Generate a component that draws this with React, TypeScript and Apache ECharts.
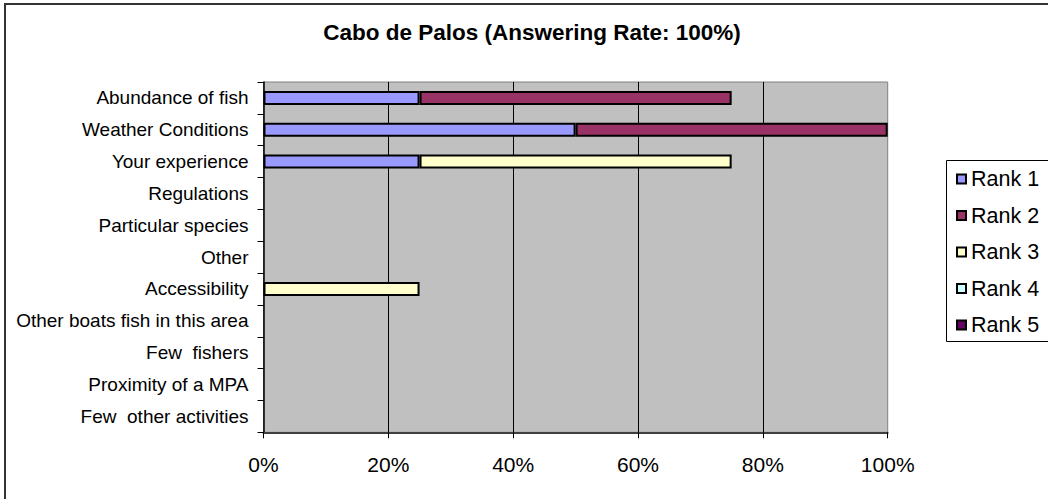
import React, { useEffect, useRef } from "react";
import * as echarts from "echarts";

const categories = [
  "Abundance of fish",
  "Weather Conditions",
  "Your experience",
  "Regulations",
  "Particular species",
  "Other",
  "Accessibility",
  "Other boats fish in this area",
  "Few  fishers",
  "Proximity of a MPA",
  "Few  other activities",
];

const rank1 = [25, 50, 25, 0, 0, 0, 0, 0, 0, 0, 0];
const rank2 = [50, 50, 0, 0, 0, 0, 0, 0, 0, 0, 0];
const rank3 = [0, 0, 50, 0, 0, 0, 25, 0, 0, 0, 0];
const rank4 = [0, 0, 0, 0, 0, 0, 0, 0, 0, 0, 0];
const rank5 = [0, 0, 0, 0, 0, 0, 0, 0, 0, 0, 0];

const seriesNames = ["Rank 1", "Rank 2", "Rank 3", "Rank 4", "Rank 5"];
const seriesColors = ["#9999FF", "#993366", "#FFFFCC", "#CCFFFF", "#660066"];
const seriesData = [rank1, rank2, rank3, rank4, rank5];

const FONT = "'Liberation Sans', Arial, sans-serif";

export default function App() {
  const ref = useRef<HTMLDivElement>(null);

  useEffect(() => {
    if (!ref.current) return;
    const chart = echarts.init(ref.current, null, { renderer: "svg" });
    chart.setOption({
      animation: false,
      backgroundColor: "#ffffff",
      textStyle: { fontFamily: FONT },
      title: {
        text: "Cabo de Palos (Answering Rate: 100%)",
        left: 527,
        top: 16,
        textAlign: "center",
        textStyle: { fontFamily: FONT, fontSize: 22.5, fontWeight: "bold", color: "#000" },
      },
      graphic: [
        {
          type: "rect",
          shape: { x: 5, y: 4, width: 1200, height: 700 },
          style: { fill: "none", stroke: "#333333", lineWidth: 2 },
          silent: true,
        },
        {
          type: "rect",
          shape: { x: 946.5, y: 160.5, width: 200, height: 181 },
          style: { fill: "#ffffff", stroke: "#000000", lineWidth: 1 },
          silent: true,
          z: -1,
        },
      ],
      legend: {
        orient: "vertical",
        left: 956,
        top: 168,
        itemWidth: 9,
        itemHeight: 9,
        itemGap: 14.5,
        itemTextGap: 10,
        icon: "rect",
        padding: 0,
        textStyle: { fontFamily: FONT, fontSize: 21.5, color: "#000" },
        data: seriesNames,
      },
      grid: {
        left: 263.5,
        right: 160.3,
        top: 82,
        bottom: 66.7,
        show: true,
        backgroundColor: "#C0C0C0",
        borderColor: "#808080",
        borderWidth: 1,
      },
      xAxis: {
        type: "value",
        min: 0,
        max: 100,
        interval: 20,
        axisLine: { show: true, lineStyle: { color: "#404040", width: 2 } },
        axisTick: { show: true, length: 6, lineStyle: { color: "#000" } },
        axisLabel: {
          formatter: "{value}%",
          margin: 22,
          fontFamily: FONT,
          fontSize: 21,
          color: "#000",
        },
        splitLine: { show: true, showMinLine: false, showMaxLine: false, lineStyle: { color: "#000", width: 1 } },
      },
      yAxis: {
        type: "category",
        inverse: true,
        data: categories,
        axisLine: { show: true, lineStyle: { color: "#000", width: 1.5 } },
        axisTick: { show: true, length: 6, lineStyle: { color: "#000" } },
        axisLabel: { margin: 15, fontFamily: FONT, fontSize: 19, color: "#000" },
        splitLine: { show: false },
      },
      series: seriesNames.map((name, i) => ({
        name,
        type: "bar",
        stack: "total",
        barWidth: 14,
        itemStyle: { color: seriesColors[i], borderColor: "#000", borderWidth: 2 },
        data: seriesData[i].map((v) => (v === 0 ? null : v)),
      })),
    });
    return () => chart.dispose();
  }, []);

  return (
    <div
      ref={ref}
      style={{ position: "fixed", left: 0, top: 0, width: 1048, height: 499 }}
    />
  );
}
